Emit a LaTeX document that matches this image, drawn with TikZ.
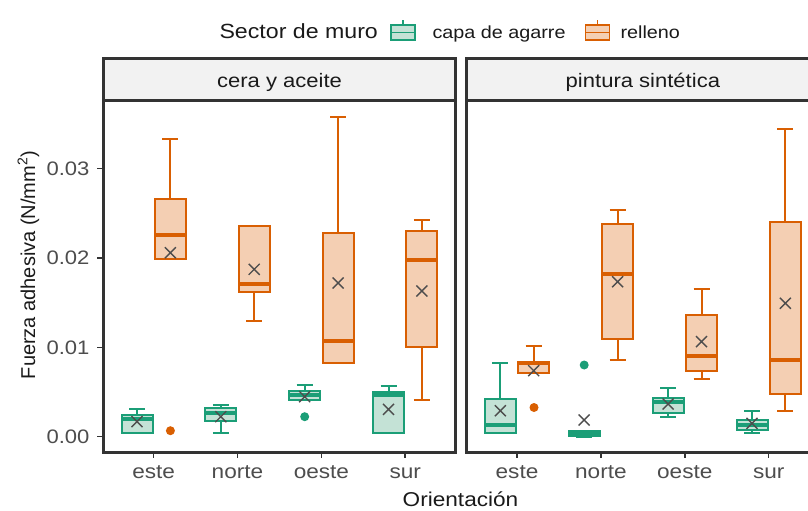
\documentclass[tikz,border=0pt]{standalone}
\usepackage{fontspec}
\setmainfont{Liberation Sans}[FakeStretch=1.13]
\newfontfamily\rotfont{Liberation Sans}
\definecolor{grn}{HTML}{1B9E77}
\definecolor{grnfill}{HTML}{C4E2D6}
\definecolor{org}{HTML}{D95F02}
\definecolor{orgfill}{HTML}{F4CFB3}
\definecolor{framecol}{HTML}{333333}
\definecolor{stripbg}{HTML}{F2F2F2}
\definecolor{meancol}{HTML}{4D4D4D}
\definecolor{ticktext}{HTML}{4D4D4D}
\definecolor{titletext}{HTML}{1A1A1A}
% x, wlo, q1, med, q3, whi, mean, colour
\newcommand{\bxp}[8]{%
  \draw[#8, line width=2pt] (#1,#2) -- (#1,#3) (#1,#5) -- (#1,#6)
    (#1-8,#2) -- (#1+8,#2) (#1-8,#6) -- (#1+8,#6);
  \filldraw[draw=#8, fill=#8fill, line width=2pt] (#1-15.5,#3) rectangle (#1+15.5,#5);
  \draw[#8, line width=4pt] (#1-15.5,#4) -- (#1+15.5,#4);
  \draw[meancol, line width=1.4pt] (#1-5.5,#7-5.5) -- (#1+5.5,#7+5.5) (#1-5.5,#7+5.5) -- (#1+5.5,#7-5.5);
}
\tikzset{
  paneltitle/.style={font=\fontsize{19.5}{22}\selectfont, text=titletext, anchor=base},
  xlab/.style={font=\fontsize{20}{24}\selectfont, text=ticktext, anchor=base},
  ylab/.style={font=\fontsize{19.5}{22}\selectfont, text=ticktext, anchor=base east},
  legtxt/.style={font=\fontsize{17.5}{20}\selectfont, text=titletext, anchor=base west},
  frameline/.style={draw=framecol, line width=3pt},
  tickline/.style={draw=framecol, line width=1.5pt},
  outl/.style={circle, inner sep=0pt, minimum size=9pt},
}
\begin{document}
\begin{tikzpicture}[x=1pt, y=-1pt]
\useasboundingbox (0,0) rectangle (808,511);
\clip (0,0) rectangle (808,511);
\fill[white] (0,0) rectangle (808,511);

% legend
\node[legtxt, font=\fontsize{20.5}{24}\selectfont] (legtitle) at (216,38.5) {Sector de muro};
\draw[grn, line width=1.6pt] (403,20.5) -- (403,25);
\filldraw[draw=grn, fill=grnfill, line width=1.6pt] (391,25) rectangle (415,40);
\draw[grn, line width=1.6pt] (391,32.5) -- (415,32.5);
\node[legtxt] (leg1) at (429,38.5) {capa de agarre};
\draw[org, line width=1.6pt] (597.5,20.5) -- (597.5,25);
\filldraw[draw=org, fill=orgfill, line width=1.6pt] (585.5,25) rectangle (609.5,40);
\draw[org, line width=1.6pt] (585.5,32.5) -- (609.5,32.5);
\node[legtxt] (leg2) at (617,38.5) {relleno};

% strips
\filldraw[fill=stripbg, frameline] (103.4,59) rectangle (455.5,100);
\node[paneltitle] (s1) at (279.5,88) {cera y aceite};
\filldraw[fill=stripbg, frameline] (466.7,59) rectangle (819,100);
\node[paneltitle] (s2) at (642.9,88) {pintura sintética};

% y axis ticks and labels
\foreach \v/\yy in {0.00/436.7, 0.01/347.4, 0.02/258.0, 0.03/168.7}{
  \draw[tickline] (97,\yy) -- (103.4,\yy);
  \node[ylab] at (93,\yy+6.8) {\v};
}
% x ticks and labels
\foreach \xx/\lab in {153.7/este, 237.5/norte, 321.4/oeste, 405.2/sur,
                      517.0/este, 600.9/norte, 684.8/oeste, 768.7/sur}{
  \draw[tickline] (\xx,452) -- (\xx,457.5);
  \node[xlab] at (\xx,478.3) {\lab};
}

% left panel: cera y aceite
\bxp{137.0}{433.3}{433.3}{418.5}{415.0}{409.3}{421.7}{grn}
\bxp{170.4}{258.7}{258.7}{234.7}{199.3}{139.3}{252.7}{org}
\node[outl, fill=org] (o1) at (170.4,430.7) {};
\bxp{220.8}{432.7}{420.7}{413.3}{408.3}{405.0}{416.7}{grn}
\bxp{254.2}{321.0}{291.7}{283.7}{225.7}{225.7}{269.3}{org}
\bxp{304.7}{400.0}{400.0}{395.0}{390.7}{385.0}{396.7}{grn}
\node[outl, fill=grn] (o2) at (304.7,416.7) {};
\bxp{338.1}{363.3}{363.3}{340.7}{232.7}{116.7}{283.0}{org}
\bxp{388.5}{432.7}{432.7}{395.0}{391.7}{386.0}{409.3}{grn}
\bxp{421.9}{399.7}{346.7}{259.7}{231.0}{220.0}{291.0}{org}

% right panel: pintura sintetica
\bxp{500.3}{432.7}{432.7}{425.0}{399.3}{363.3}{410.7}{grn}
\bxp{533.7}{372.7}{372.7}{363.0}{361.7}{346.0}{370.7}{org}
\node[outl, fill=org] (o3) at (534.0,407.5) {};
\bxp{584.2}{437.0}{435.5}{432.8}{431.0}{431.0}{420.0}{grn}
\node[outl, fill=grn] (o4) at (584.2,365.0) {};
\bxp{617.6}{359.7}{339.3}{274.3}{224.0}{210.3}{281.7}{org}
\bxp{668.1}{416.7}{412.7}{402.0}{397.7}{388.3}{404.0}{grn}
\bxp{701.5}{379.3}{370.5}{355.7}{315.0}{289.3}{341.7}{org}
\bxp{752.0}{432.5}{430.0}{425.0}{420.0}{410.7}{423.3}{grn}
\bxp{785.4}{410.7}{394.0}{359.5}{222.3}{129.3}{303.3}{org}

% panel borders
\draw[frameline] (103.4,100) rectangle (455.5,452);
\draw[frameline] (466.7,100) rectangle (819,452);

% axis titles
\node[anchor=base, font=\fontsize{20}{24}\selectfont, text=titletext] (xt) at (460.5,506.5) {Orientación};
\node[anchor=base, rotate=90, font=\rotfont\fontsize{20}{24}\selectfont, text=titletext] (yt) at (35,265) {Fuerza adhesiva (N/mm\textsuperscript{2})};
\end{tikzpicture}
\end{document}
